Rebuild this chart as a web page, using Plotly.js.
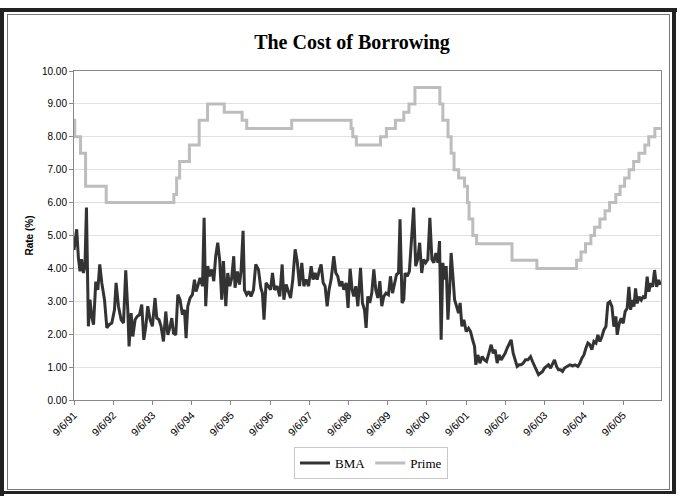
<!DOCTYPE html>
<html>
<head>
<meta charset="utf-8">
<script src="https://cdn.plot.ly/plotly-3.0.1.min.js"></script>
<style>
  html, body { margin: 0; padding: 0; background: #fff; }
  #wrap { position: relative; width: 681px; height: 496px; overflow: hidden; }
  #chart { position: absolute; left: 0; top: 0; width: 681px; height: 496px; }
  .bd { position: absolute; pointer-events: none; }
</style>
</head>
<body>
<div id="wrap">
  <div id="chart"></div>
  <div class="bd" style="left:0;top:8px;width:677px;height:4px;background:#222;"></div>
  <div class="bd" style="left:0;top:8px;width:4px;height:488px;background:#222;"></div>
  <div class="bd" style="left:672px;top:8px;width:4px;height:486px;background:#222;"></div>
  <div class="bd" style="left:0;top:491px;width:676px;height:3px;background:#222;"></div>
  <div class="bd" style="left:7px;top:14px;width:661px;height:474px;border:1px solid #777;"></div>
</div>
<script>
// ---- Data ----
const tickDates = ['1991-09-06','1992-09-06','1993-09-06','1994-09-06','1995-09-06','1996-09-06','1997-09-06',
  '1998-09-06','1999-09-06','2000-09-06','2001-09-06','2002-09-06','2003-09-06','2004-09-06','2005-09-06'];
const tickLabels = ['9/6/91','9/6/92','9/6/93','9/6/94','9/6/95','9/6/96','9/6/97',
  '9/6/98','9/6/99','9/6/00','9/6/01','9/6/02','9/6/03','9/6/04','9/6/05'];

const bmaDates = [
 '1991-09-06','1991-10-01','1991-10-17','1991-11-01','1991-11-15','1991-12-03','1991-12-17','1991-12-31',
 '1992-01-18','1992-02-02','1992-02-18','1992-03-06','1992-03-27','1992-04-15','1992-05-03','1992-05-22',
 '1992-06-16','1992-07-08','1992-07-29','1992-08-23',
 '1992-09-17','1992-10-02','1992-10-24','1992-11-18','1992-12-10','1992-12-31','1993-01-19','1993-01-31',
 '1993-02-19','1993-03-07','1993-03-28','1993-04-16','1993-05-08','1993-05-29','1993-06-17','1993-07-06',
 '1993-07-24','1993-08-15','1993-09-05',
 '1993-09-30','1993-10-16','1993-11-06','1993-11-25','1993-12-17','1994-01-08','1994-01-27','1994-02-17',
 '1994-03-05','1994-03-21','1994-04-11','1994-04-30','1994-05-21','1994-06-12','1994-07-01','1994-07-16',
 '1994-08-01','1994-08-22',
 '1994-09-13','1994-10-02','1994-10-17','1994-11-02','1994-11-23','1994-12-16','1994-12-31','1995-01-15',
 '1995-02-03','1995-02-19','1995-03-12','1995-03-31','1995-04-18','1995-05-07','1995-05-26','1995-06-13',
 '1995-06-29','1995-07-21','1995-08-08','1995-08-27',
 '1995-09-14','1995-10-03','1995-10-15','1995-11-06','1995-11-25','1995-12-10','1995-12-29','1996-01-11',
 '1996-02-01','1996-02-23','1996-03-12','1996-04-04','1996-04-25','1996-05-20','1996-06-11','1996-06-26',
 '1996-07-11','1996-07-30','1996-08-21',
 '1996-09-10','1996-09-28','1996-10-17','1996-11-10','1996-12-05','1996-12-27','1997-01-12','1997-02-02',
 '1997-02-24','1997-03-15','1997-04-05','1997-04-27','1997-05-16','1997-06-07','1997-06-28','1997-07-17',
 '1997-08-07','1997-08-30',
 '1997-09-23','1997-10-11','1997-10-30','1997-11-18','1997-12-10','1997-12-25','1998-01-13','1998-01-31',
 '1998-02-19','1998-03-09','1998-03-28','1998-04-22','1998-05-11','1998-05-29','1998-06-17','1998-07-06',
 '1998-07-24','1998-08-15','1998-09-02',
 '1998-09-21','1998-10-10','1998-10-25','1998-11-13','1998-12-02','1998-12-27','1999-01-14','1999-02-02',
 '1999-02-17','1999-03-05','1999-03-23','1999-04-11','1999-04-30','1999-05-18','1999-06-06','1999-06-25',
 '1999-07-13','1999-08-01','1999-08-22',
 '1999-09-13','1999-10-02','1999-10-21','1999-11-08','1999-11-27','1999-12-16','1999-12-30','2000-01-18',
 '2000-02-03','2000-02-15','2000-03-05','2000-03-26','2000-04-16','2000-05-05','2000-05-24','2000-06-11',
 '2000-06-30','2000-07-19','2000-08-06','2000-08-25',
 '2000-09-14','2000-10-03','2000-10-22','2000-11-09','2000-11-28','2000-12-17','2001-01-01','2001-01-16',
 '2001-02-01','2001-02-17','2001-03-04','2001-03-20','2001-04-05','2001-04-19','2001-05-08','2001-05-21',
 '2001-06-09','2001-06-27','2001-07-12','2001-07-28','2001-08-16','2001-09-06',
 '2001-09-28','2001-10-17','2001-11-05','2001-11-23','2001-12-05','2001-12-24','2002-01-12','2002-02-02',
 '2002-02-24','2002-03-15','2002-04-05','2002-04-27','2002-05-16','2002-06-03','2002-06-22','2002-07-10',
 '2002-07-29','2002-08-17','2002-09-04',
 '2002-09-23','2002-10-11','2002-10-30','2002-11-18','2002-12-06','2002-12-25','2003-01-13','2003-01-31',
 '2003-02-19','2003-03-13','2003-04-04','2003-04-29','2003-05-17','2003-06-05','2003-06-24','2003-07-12',
 '2003-07-31','2003-08-19','2003-09-06',
 '2003-09-25','2003-10-13','2003-11-01','2003-11-20','2003-12-08','2003-12-27','2004-01-14','2004-02-02',
 '2004-02-21','2004-03-10','2004-04-04','2004-04-29','2004-05-25','2004-06-18','2004-07-13','2004-08-01',
 '2004-08-19','2004-09-07',
 '2004-09-26','2004-10-14','2004-11-02','2004-11-20','2004-12-09','2004-12-28','2005-01-15','2005-02-03',
 '2005-02-22','2005-03-12','2005-03-31','2005-04-18','2005-05-07','2005-05-26','2005-06-13','2005-07-02',
 '2005-07-14','2005-08-02','2005-08-20','2005-09-08',
 '2005-09-26','2005-10-15','2005-10-31','2005-11-16','2005-12-01','2005-12-17','2006-01-01','2006-01-16',
 '2006-02-04','2006-02-23','2006-03-13','2006-04-01','2006-04-19','2006-05-05','2006-05-21','2006-06-09',
 '2006-06-27','2006-07-16','2006-08-04','2006-08-20'
];
const bmaValues = [
 4.56,5.19,4.32,3.91,4.28,3.86,4.07,5.85,
 2.24,3.05,2.54,2.29,3.60,3.35,4.12,3.56,
 3.05,2.19,2.29,2.34,
 2.74,3.56,2.85,2.44,2.34,3.94,2.74,1.63,
 2.64,1.93,2.44,2.54,2.59,2.90,1.83,2.24,
 2.85,2.44,2.24,
 3.10,2.49,2.44,2.24,1.78,2.69,1.98,2.24,
 2.49,2.03,1.98,3.20,3.05,2.59,2.74,1.88,
 2.85,3.10,
 3.20,3.66,3.30,3.46,3.71,3.46,5.54,2.85,
 4.07,3.76,3.97,3.61,4.37,4.78,4.22,3.05,
 4.22,2.85,3.86,3.46,
 3.71,4.37,3.41,3.91,3.51,3.91,5.14,3.35,
 3.20,3.30,3.15,3.35,4.12,3.97,3.41,3.25,
 2.44,3.56,3.46,
 3.35,3.86,3.35,3.46,3.15,4.12,3.05,3.51,
 3.25,3.10,3.66,4.58,4.22,3.46,4.17,3.46,
 3.66,3.46,
 4.07,3.66,3.86,3.66,3.97,4.12,3.56,3.46,
 2.85,3.35,3.66,4.37,3.86,3.76,3.46,3.61,
 3.35,3.56,2.80,
 3.99,3.35,3.15,3.46,2.85,4.02,2.95,2.74,
 2.19,3.15,2.95,3.25,3.97,3.35,3.10,3.61,
 2.85,3.15,3.25,
 3.20,3.76,3.25,3.56,3.81,3.86,5.49,2.95,
 3.05,3.86,3.76,3.91,4.88,5.85,4.07,4.27,
 4.78,3.86,4.27,4.17,
 4.27,5.54,4.27,4.17,4.47,4.17,4.83,1.83,
 4.17,3.66,4.07,2.44,3.35,4.47,3.66,3.05,
 2.85,2.64,2.95,2.24,2.44,2.08,
 2.18,2.08,1.83,1.63,1.07,1.37,1.12,1.32,
 1.22,1.17,1.42,1.68,1.42,1.53,1.12,1.37,
 1.22,1.32,1.42,
 1.58,1.73,1.83,1.42,1.22,1.02,1.07,1.07,
 1.12,1.22,1.22,1.32,1.17,1.02,0.92,0.77,
 0.82,0.87,0.97,
 1.02,1.07,0.97,1.12,1.22,1.02,0.92,0.92,
 0.87,0.97,1.02,1.07,1.04,1.07,1.02,1.12,
 1.27,1.37,
 1.58,1.73,1.68,1.53,1.78,1.73,1.98,1.78,
 1.93,2.13,2.23,2.94,2.99,2.84,2.23,2.54,
 1.98,2.33,2.48,2.33,
 2.69,2.79,3.44,2.74,3.04,2.84,3.39,2.94,
 3.14,3.04,3.14,3.09,3.75,3.29,3.55,3.44,
 3.95,3.44,3.65,3.50
];

const primeDates = [
 '1991-09-06','1991-09-13','1991-11-06','1991-12-23','1992-07-02','1994-03-24','1994-04-19','1994-05-17',
 '1994-08-16','1994-11-15','1995-02-01','1995-07-07','1995-12-20','1996-02-01','1997-03-26','1998-09-30',
 '1998-10-16','1998-11-18','1999-07-01','1999-08-25','1999-11-17','2000-02-03','2000-03-22','2000-05-17',
 '2001-01-04','2001-02-01','2001-03-21','2001-04-19','2001-05-16','2001-06-28','2001-08-22','2001-09-18',
 '2001-10-03','2001-11-07','2001-12-12','2002-11-07','2003-06-27','2004-07-01','2004-08-11','2004-09-22',
 '2004-11-11','2004-12-15','2005-02-03','2005-03-23','2005-05-04','2005-07-01','2005-08-10','2005-09-21',
 '2005-11-02','2005-12-14','2006-02-01','2006-03-29','2006-05-04','2006-06-30','2006-08-24'
];
const primeValues = [
 8.50,8.00,7.50,6.50,6.00,6.25,6.75,7.25,
 7.75,8.50,9.00,8.75,8.50,8.25,8.50,8.25,
 8.00,7.75,8.00,8.25,8.50,8.75,9.00,9.50,
 9.00,8.50,8.00,7.50,7.00,6.75,6.50,6.00,
 5.50,5.00,4.75,4.25,4.00,4.25,4.50,4.75,
 5.00,5.25,5.50,5.75,6.00,6.25,6.50,6.75,
 7.00,7.25,7.50,7.75,8.00,8.25,8.25
];

const seriesNames = ['BMA', 'Prime'];

// ---- Chart ----
const traces = [
  {
    x: bmaDates, y: bmaValues, name: seriesNames[0], type: 'scatter', mode: 'lines',
    line: { color: '#333333', width: 3 }
  },
  {
    x: primeDates, y: primeValues, name: seriesNames[1], type: 'scatter', mode: 'lines',
    line: { color: '#bdbdbd', width: 3, shape: 'hv' }
  }
];

const layout = {
  width: 681, height: 496,
  margin: { l: 74, r: 20, t: 71, b: 96 },
  paper_bgcolor: '#ffffff', plot_bgcolor: '#ffffff',
  showlegend: true,
  title: {
    text: '<b>The Cost of Borrowing</b>',
    font: { family: 'Liberation Serif, DejaVu Serif, serif', size: 20, color: '#000' },
    x: 352 / 681, xref: 'container', xanchor: 'center',
    y: 1 - 42 / 496, yref: 'container', yanchor: 'middle'
  },
  xaxis: {
    type: 'date',
    range: ['1991-09-06', '2006-08-26'],
    tickmode: 'array', tickvals: tickDates, ticktext: tickLabels,
    tickangle: -45,
    tickfont: { family: 'Liberation Sans, Arial, sans-serif', size: 10.5, color: '#000' },
    ticks: 'outside', ticklen: 4, tickcolor: '#888', tickwidth: 1,
    showgrid: false, zeroline: false,
    showline: true, linecolor: '#888', linewidth: 1, mirror: true
  },
  yaxis: {
    range: [0, 10], dtick: 1, tick0: 0, tickformat: '.2f',
    tickfont: { family: 'Liberation Sans, Arial, sans-serif', size: 10, color: '#000' },
    ticks: 'outside', ticklen: 4, tickcolor: '#888', tickwidth: 1,
    showgrid: true, gridcolor: '#e0e0e0', gridwidth: 1, zeroline: false,
    showline: true, linecolor: '#888', linewidth: 1, mirror: true,
    title: {
      text: '<b>Rate (%)</b>', standoff: 6,
      font: { family: 'Liberation Sans, Arial, sans-serif', size: 10, color: '#000' }
    },
    automargin: false
  },
  legend: {
    orientation: 'h', x: 0.506, xanchor: 'center', y: -0.143, yanchor: 'top',
    bordercolor: '#c8c8c8', borderwidth: 1, bgcolor: '#fff',
    font: { family: 'Liberation Serif, DejaVu Serif, serif', size: 13, color: '#000' },
    itemwidth: 30, tracegroupgap: 0
  }
};

Plotly.newPlot('chart', traces, layout, { displayModeBar: false, staticPlot: true });
</script>
</body>
</html>
